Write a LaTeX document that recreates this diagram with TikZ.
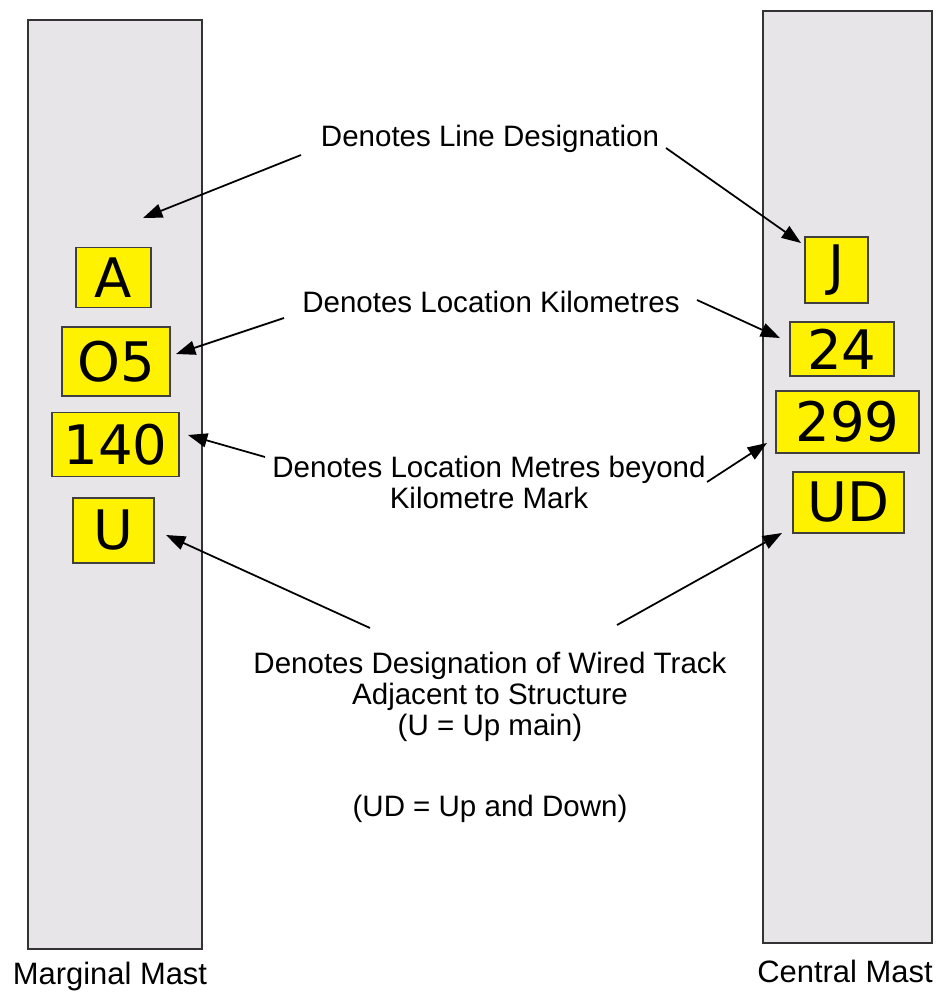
\documentclass[tikz,border=0pt]{standalone}
\usepackage{fontspec}
\setmainfont{Liberation Sans}
\newfontfamily\platefont{DejaVu Sans}
\usetikzlibrary{arrows.meta}
\definecolor{mastgrey}{RGB}{231,229,232}
\definecolor{plateyellow}{RGB}{255,242,0}
\tikzset{
  mast/.style={draw=black!80, line width=1pt, fill=mastgrey},
  plate/.style={draw=black!75, line width=0.9pt, fill=plateyellow, inner sep=0pt,
    font=\platefont\fontsize{31}{31}\selectfont},
  caption/.style={font=\fontsize{16.8}{17.6}\selectfont, align=center, inner sep=0pt},
  mastname/.style={caption, font=\fontsize{17.6}{18}\selectfont},
  pointer/.style={-{Triangle[length=11pt,width=8pt]}, line width=1pt}
}
\begin{document}
\begin{tikzpicture}[x=0.02cm, y=-0.02cm]
  \useasboundingbox (0,0) rectangle (938,994);
  % the two masts
  \draw[mast] (28,20) rectangle (202,949);
  \draw[mast] (763,11) rectangle (932,943);
  % plates on the marginal mast
  \node[plate, minimum width=1.50cm, minimum height=1.20cm] (A) at (113.5,277.5) {A};
  \node[plate, minimum width=2.16cm, minimum height=1.38cm] (O5) at (116,361.5) {O5};
  \node[plate, minimum width=2.54cm, minimum height=1.28cm] (140) at (115.5,444.5) {140};
  \node[plate, minimum width=1.62cm, minimum height=1.30cm] (U) at (113.5,530.5) {U};
  % plates on the central mast
  \node[plate, minimum width=1.26cm, minimum height=1.32cm] (J) at (836.5,270) {J};
  \node[plate, minimum width=2.08cm, minimum height=1.08cm] (24) at (842,349) {24};
  \node[plate, minimum width=2.86cm, minimum height=1.24cm] (299) at (847.5,422) {299};
  \node[plate, minimum width=2.22cm, minimum height=1.22cm] (UD) at (848.5,502.5) {UD};
  % captions
  \node[caption] (linedes) at (490,139) {Denotes Line Designation};
  \node[caption] (kmdes) at (491,302) {Denotes Location Kilometres};
  \node[caption] (mdes) at (489,482) {Denotes Location Metres beyond\\Kilometre Mark};
  \node[caption] (trackdes) at (490,697) {Denotes Designation of Wired Track\\Adjacent to Structure\\(U = Up main)};
  \node[caption] (updown) at (490,809) {(UD = Up and Down)};
  \node[mastname] (marginal) at (110,976) {Marginal Mast};
  \node[mastname] (central) at (845,971) {Central Mast};
  % arrow ends
  \coordinate (lineL) at (301,155);
  \coordinate (lineLtip) at (143,218);
  \coordinate (lineR) at (666,148);
  \coordinate (lineRtip) at (801,243);
  \coordinate (kmL) at (284,318);
  \coordinate (kmLtip) at (176,354);
  \coordinate (kmR) at (697,300);
  \coordinate (kmRtip) at (780,338);
  \coordinate (mL) at (265,457);
  \coordinate (mLtip) at (188,435);
  \coordinate (mR) at (707,482);
  \coordinate (mRtip) at (767,443);
  \coordinate (trackL) at (370,628);
  \coordinate (trackLtip) at (166,535);
  \coordinate (trackR) at (617,625);
  \coordinate (trackRtip) at (782,533);
  \begin{scope}[pointer]
    \draw (lineL) to (lineLtip);
    \draw (lineR) to (lineRtip);
    \draw (kmL) to (kmLtip);
    \draw (kmR) to (kmRtip);
    \draw (mL) to (mLtip);
    \draw (mR) to (mRtip);
    \draw (trackL) to (trackLtip);
    \draw (trackR) to (trackRtip);
  \end{scope}
\end{tikzpicture}
\end{document}
